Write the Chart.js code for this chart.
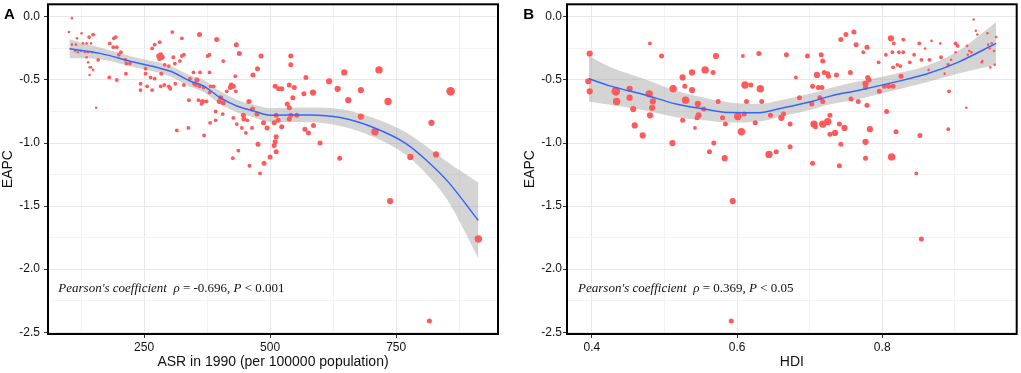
<!DOCTYPE html>
<html>
<head>
<meta charset="utf-8">
<script src="https://cdn.jsdelivr.net/npm/chart.js@4.4.0/dist/chart.umd.min.js"></script>
<style>
  html, body { margin: 0; padding: 0; background: #fff; }
  #wrap { position: relative; width: 1021px; height: 373px; }
  #chartA { position: absolute; left: 0; top: 0; }
  #chartB { position: absolute; left: 510px; top: 0; }
</style>
</head>
<body>
<div id="wrap">
  <canvas id="chartA" width="510" height="373"></canvas>
  <canvas id="chartB" width="511" height="373"></canvas>
</div>
<script>
// ---- tick values ----
const yMajor = [-2.5, -2, -1.5, -1, -0.5, 0];
const yMinor = [-2.25, -1.75, -1.25, -0.75, -0.25];
const xMajorA = [250, 500, 750];
const xMinorA = [125, 375, 625, 875];
const xMajorB = [0.4, 0.6, 0.8];
const xMinorB = [0.5, 0.7, 0.9];

// ---- panel A: ASR in 1990 vs EAPC (size = weight level) ----
const asrA = [107,101,126,141,149,117,129,136,145,107,115,113,119,125,133,139,147,136,139,142,
  142,145,149,159,155,182,190,194,189,196,181,196,204,200,213,215,222,214,243,243,
  256,266,253,253,263,271,266,271,281,279,283,281,286,291,299,311,306,284,290,283,
  299,301,312,302,325,360,394,433,439,325,329,321,308,376,380,407,482,541,541,475,
  466,431,348,361,380,341,355,353,360,349,329,368,380,382,388,423,427,421,432,414,
  402,399,407,339,358,366,364,374,392,406,458,427,447,448,455,381,392,434,444,452,
  464,315,338,369,487,494,508,516,523,512,512,510,508,512,500,476,437,426,459,488,
  480,510,517,523,538,548,534,538,545,541,553,538,567,571,569,576,647,716,617,634,
  680,655,734,858,585,586,599,638,680,708,778,820,829,474,465,738,913,816];
const eapcA = [-0.01,-0.12,-0.13,-0.16,-0.14,-0.17,-0.21,-0.21,-0.21,-0.22,-0.22,-0.27,-0.28,-0.27,-0.28,-0.28,-0.28,-0.32,-0.36,-0.40,
  -0.46,-0.40,-0.42,-0.34,-0.72,-0.21,-0.17,-0.16,-0.24,-0.24,-0.48,-0.50,-0.28,-0.30,-0.34,-0.37,-0.37,-0.45,-0.53,-0.58,
  -0.55,-0.58,-0.45,-0.41,-0.48,-0.49,-0.25,-0.22,-0.20,-0.31,-0.30,-0.33,-0.32,-0.38,-0.39,-0.37,-0.12,-0.45,-0.54,-0.55,
  -0.55,-0.56,-0.53,-0.57,-0.17,-0.14,-0.18,-0.22,-0.29,-0.31,-0.30,-0.35,-0.32,-0.31,-0.30,-0.35,-0.31,-0.31,-0.38,-0.41,
  -0.46,-0.47,-0.44,-0.44,-0.44,-0.49,-0.50,-0.54,-0.55,-0.53,-0.54,-0.56,-0.60,-0.55,-0.55,-0.54,-0.55,-0.56,-0.59,-0.59,
  -0.64,-0.67,-0.68,-0.66,-0.66,-0.67,-0.69,-0.67,-0.75,-0.77,-0.67,-0.80,-0.78,-0.81,-0.82,-0.84,-0.82,-0.85,-0.88,-0.92,
  -0.88,-0.90,-0.88,-0.94,-0.84,-0.88,-0.84,-0.82,-0.87,-0.78,-0.95,-0.99,-1.02,-1.07,-1.11,-1.01,-1.06,-1.12,-1.18,-1.16,
  -1.24,-0.55,-0.57,-0.57,-0.54,-0.56,-0.69,-0.72,-0.64,-0.78,-0.78,-0.81,-0.61,-0.48,-0.89,-0.92,-0.44,-0.42,-0.51,-0.57,
  -0.58,-0.66,-0.67,-0.59,-0.60,-0.86,-1.00,-1.12,-0.79,-0.91,-1.11,-0.84,-1.09,-0.77,-0.73,-1.46,-1.76,-2.41];
const weightA = [1,1,1,2,2,1,1,1,1,1,1,1,1,1,1,1,1,1,1,1,
  1,1,1,2,1,2,2,2,2,2,2,2,2,2,2,2,2,2,2,2,
  2,2,2,2,2,2,2,2,2,3,3,3,3,2,2,2,2,2,2,2,
  2,2,2,2,2,3,3,3,3,2,2,2,2,2,2,2,3,3,3,3,
  3,2,2,2,2,2,3,2,2,2,2,2,2,2,2,3,3,3,2,2,
  3,3,3,2,2,3,2,2,2,2,3,2,3,3,2,2,2,2,2,2,
  2,2,2,2,3,3,3,3,3,3,3,3,3,3,3,3,2,2,2,3,
  2,3,3,3,3,3,3,3,3,3,3,3,3,3,3,3,4,5,4,4,
  4,4,5,6,4,3,3,3,4,5,4,4,4,3,3,4,5,3];

// loess fit for panel A
const fitXA = [102,130,163,229,301,341,368,401,434,467,500,579,639,705,771,811,851,913];
const fitYA = [-0.253,-0.268,-0.289,-0.358,-0.429,-0.508,-0.548,-0.640,-0.706,-0.745,-0.779,-0.777,-0.798,-0.877,-1.008,-1.140,-1.298,-1.614];
const fitSeA = [0.075,0.06,0.046,0.04,0.042,0.045,0.047,0.05,0.05,0.05,0.055,0.058,0.067,0.075,0.09,0.11,0.15,0.30];

// ---- panel B: HDI vs EAPC ----
const hdiB = [0.397,0.395,0.397,0.433,0.434,0.452,0.452,0.457,0.459,0.470,0.480,0.496,0.479,0.484,0.483,0.480,0.511,0.512,0.525,0.528,
  0.538,0.538,0.529,0.525,0.556,0.567,0.571,0.546,0.547,0.545,0.554,0.542,0.562,0.568,0.583,0.574,0.580,0.584,0.601,0.606,
  0.608,0.611,0.619,0.613,0.610,0.625,0.630,0.632,0.634,0.644,0.646,0.654,0.661,0.664,0.668,0.673,0.673,0.681,0.686,0.697,
  0.703,0.704,0.706,0.708,0.718,0.725,0.710,0.704,0.712,0.717,0.714,0.718,0.716,0.718,0.720,0.725,0.726,0.728,0.728,0.735,
  0.737,0.741,0.741,0.743,0.743,0.748,0.750,0.756,0.757,0.761,0.764,0.767,0.774,0.777,0.779,0.777,0.780,0.781,0.782,0.779,
  0.777,0.777,0.783,0.795,0.796,0.805,0.806,0.803,0.809,0.815,0.812,0.813,0.814,0.815,0.816,0.819,0.821,0.823,0.829,0.825,
  0.826,0.829,0.838,0.844,0.847,0.851,0.852,0.854,0.859,0.864,0.865,0.868,0.880,0.881,0.886,0.891,0.892,0.891,0.895,0.901,
  0.904,0.901,0.917,0.918,0.920,0.923,0.916,0.926,0.929,0.931,0.938,0.937,0.945,0.946,0.948,0.951,0.949,0.955,0.957,0.954,
  0.594,0.592,0.854];
const eapcB = [-0.29,-0.51,-0.59,-0.59,-0.67,-0.57,-0.64,-0.73,-0.86,-0.94,-0.21,-0.31,-0.61,-0.67,-0.72,-0.78,-1.00,-0.57,-0.48,-0.55,
  -0.44,-0.58,-0.66,-0.82,-0.42,-0.44,-0.31,-0.69,-0.78,-0.80,-0.73,-0.88,-1.07,-1.00,-1.12,-0.67,-0.80,-0.85,-0.79,-0.91,
  -0.31,-0.54,-0.54,-0.67,-0.77,-0.84,-0.29,-0.57,-0.67,-1.09,-0.78,-1.07,-0.80,-0.77,-0.30,-0.85,-1.03,-0.48,-0.64,-0.31,
  -0.69,-1.16,-0.85,-0.87,-0.85,-0.83,-0.46,-0.55,-0.56,-0.56,-0.64,-0.67,-0.30,-0.35,-0.44,-0.45,-0.47,-0.78,-0.93,-0.92,
  -0.46,-0.85,-1.18,-0.18,-1.01,-0.88,-0.14,-0.44,-0.65,-0.12,-0.22,-0.67,-0.28,-0.56,-0.24,-0.53,-0.48,-0.49,-0.50,-0.70,
  -0.99,-1.12,-0.89,-0.36,-0.59,-0.30,-0.75,-0.55,-0.55,-0.55,-0.17,-1.11,-0.28,-0.40,-0.21,-0.91,-0.38,-0.28,-0.28,-0.39,
  -0.47,-0.18,-0.36,-0.30,-1.24,-0.21,-0.94,-0.34,-0.25,-0.42,-0.34,-0.19,-0.21,-0.32,-0.45,-0.38,-0.59,-0.89,-0.34,-0.21,
  -0.23,-0.28,-0.23,-0.30,-0.27,-0.28,-0.72,-0.02,-0.11,-0.14,-0.35,-0.36,-0.13,-0.22,-0.25,-0.21,-0.40,-0.38,-0.16,-0.27,
  -1.46,-2.41,-1.76];
const weightB = [4,4,4,6,5,4,4,4,4,4,2,3,5,4,4,4,4,5,4,3,
  4,4,5,3,5,3,4,4,4,3,3,2,3,3,4,3,3,3,5,5,
  2,5,3,3,3,3,3,5,3,5,3,3,4,3,3,3,3,2,3,3,
  3,3,5,3,5,5,4,3,3,3,3,3,3,3,3,3,3,3,3,4,
  3,3,3,3,3,4,3,3,3,3,3,3,2,3,3,4,3,3,3,3,
  4,3,4,2,3,2,3,3,3,3,4,5,2,2,2,3,2,2,2,2,
  3,2,2,2,2,2,3,2,1,1,2,1,1,2,1,2,2,2,1,2,
  2,1,1,1,1,1,1,1,1,1,1,1,1,1,1,1,1,1,1,1,
  4,3,3];

// loess fit for panel B
const fitXB = [0.396,0.425,0.470,0.516,0.555,0.590,0.631,0.658,0.704,0.727,0.768,0.814,0.860,0.905,0.957];
const fitYB = [-0.49,-0.547,-0.613,-0.69,-0.73,-0.758,-0.76,-0.728,-0.668,-0.63,-0.581,-0.521,-0.455,-0.358,-0.21];
const fitSeB = [0.18,0.15,0.125,0.105,0.09,0.08,0.07,0.065,0.065,0.065,0.07,0.065,0.065,0.09,0.17];

const sansFont = '"Liberation Sans", Arial, sans-serif';
const serifFont = '"Liberation Serif", "Times New Roman", serif';

const near = (list, v) => list.some(t => Math.abs(t - v) < 1e-9);

// frame, panel letter and Pearson note
const panelDecor = {
  id: 'panelDecor',
  afterDatasetsDraw(chart, args, o) {
    const { ctx, chartArea: a, scales } = chart;
    ctx.save();
    // annotation
    let px = scales.x.getPixelForValue(o.noteAt[0]);
    const py = scales.y.getPixelForValue(o.noteAt[1]);
    ctx.fillStyle = '#111';
    ctx.textBaseline = 'alphabetic';
    ctx.textAlign = 'left';
    o.noteParts.forEach(([txt, ital]) => {
      ctx.font = (ital ? 'italic ' : '') + '13px ' + serifFont;
      ctx.fillText(txt, px, py);
      px += ctx.measureText(txt).width;
    });
    // panel border
    ctx.strokeStyle = '#000';
    ctx.lineWidth = 2;
    ctx.strokeRect(a.left, a.top, a.right - a.left, a.bottom - a.top);
    // panel letter
    ctx.font = 'bold 15px ' + sansFont;
    ctx.fillStyle = '#000';
    ctx.fillText(o.letter, o.letterX, 18.5);
    ctx.restore();
  }
};

function makePanel(id, p) {
  const pts = p.xs.map((v, i) => ({ x: v, y: p.ys[i] }));
  const fit = p.fitX.map((v, i) => ({ x: v, y: p.fitY[i] }));
  const upper = p.fitX.map((v, i) => ({ x: v, y: p.fitY[i] + p.fitSe[i] }));
  const lower = p.fitX.map((v, i) => ({ x: v, y: p.fitY[i] - p.fitSe[i] }));

  return new Chart(document.getElementById(id), {
    type: 'scatter',
    data: {
      datasets: [
        { type: 'line', data: fit, borderColor: '#3366ff', borderWidth: 1.5,
          pointRadius: 0, fill: false, cubicInterpolationMode: 'monotone' },
        { data: pts, backgroundColor: '#ff5959', borderWidth: 0,
          pointRadius: p.weights.map(w => 0.7 + 0.6 * w), pointHoverRadius: 0 },
        { type: 'line', data: upper, borderWidth: 0, borderColor: 'rgba(0,0,0,0)',
          backgroundColor: 'rgba(153,153,153,0.42)', pointRadius: 0, fill: '+1',
          cubicInterpolationMode: 'monotone' },
        { type: 'line', data: lower, borderWidth: 0, borderColor: 'rgba(0,0,0,0)',
          pointRadius: 0, fill: false, cubicInterpolationMode: 'monotone' }
      ]
    },
    options: {
      responsive: false,
      animation: false,
      devicePixelRatio: 1,
      layout: { padding: { left: 0, right: p.padRight, top: 3, bottom: 0 } },
      plugins: {
        legend: { display: false },
        tooltip: { enabled: false },
        panelDecor: { letter: p.letter, letterX: p.letterX, noteAt: p.noteAt, noteParts: p.noteParts }
      },
      scales: {
        x: {
          type: 'linear', min: p.xMin, max: p.xMax,
          afterBuildTicks: s => { s.ticks = p.xMajor.concat(p.xMinor).sort((a, b) => a - b).map(v => ({ value: v })); },
          afterFit: s => { s.height = 39; s.paddingLeft = 0; s.paddingRight = 0; },
          border: { display: false },
          grid: {
            color: c => c.tick && near(p.xMinor, c.tick.value) ? '#f3f3f3' : '#e8e8e8',
            tickColor: c => c.tick && near(p.xMinor, c.tick.value) ? 'rgba(0,0,0,0)' : '#333',
            tickLength: 4, lineWidth: 1
          },
          ticks: {
            autoSkip: false, maxRotation: 0, minRotation: 0, padding: 2,
            color: '#111', font: { family: sansFont, size: 12 },
            callback: v => near(p.xMajor, v) ? p.xFmt(v) : ''
          },
          title: { display: true, text: p.xTitle, color: '#111',
            font: { family: sansFont, size: 14 }, padding: { top: 0, bottom: 2 } }
        },
        y: {
          type: 'linear', min: -2.514, max: 0.1,
          afterBuildTicks: s => { s.ticks = yMajor.concat(yMinor).sort((a, b) => a - b).map(v => ({ value: v })); },
          afterFit: s => { s.width = p.yWidth; s.paddingTop = 0; s.paddingBottom = 0; },
          border: { display: false },
          grid: {
            color: c => c.tick && near(yMinor, c.tick.value) ? '#f3f3f3' : '#e8e8e8',
            tickColor: c => c.tick && near(yMinor, c.tick.value) ? 'rgba(0,0,0,0)' : '#333',
            tickLength: 4, lineWidth: 1
          },
          ticks: {
            autoSkip: false, padding: p.yPad,
            color: '#111', font: { family: sansFont, size: 12 },
            callback: v => near(yMajor, v) ? v.toFixed(1) : ''
          },
          title: { display: true, text: 'EAPC', color: '#111',
            font: { family: sansFont, size: 14 }, padding: { top: p.yTitlePad, bottom: 0 } }
        }
      }
    },
    plugins: [panelDecor]
  });
}

makePanel('chartA', {
  xs: asrA, ys: eapcA, weights: weightA,
  fitX: fitXA, fitY: fitYA, fitSe: fitSeA,
  xMin: 59.5, xMax: 952, xMajor: xMajorA, xMinor: xMinorA, xFmt: v => String(v),
  xTitle: 'ASR in 1990 (per 100000 population)',
  padRight: 12, yWidth: 48, yPad: 4, yTitlePad: 0,
  letter: 'A', letterX: 4,
  noteAt: [80, -2.178],
  noteParts: [["Pearson's coefficient  ", true], ['\u03C1', true], [' = -0.696, ', false], ['P', true], [' < 0.001', false]]
});

makePanel('chartB', {
  xs: hdiB, ys: eapcB, weights: weightB,
  fitX: fitXB, fitY: fitYB, fitSe: fitSeB,
  xMin: 0.3657, xMax: 0.9853, xMajor: xMajorB, xMinor: xMinorB, xFmt: v => v.toFixed(1),
  xTitle: 'HDI',
  padRight: 3, yWidth: 57, yPad: 1, yTitlePad: 11.6,
  letter: 'B', letterX: 13.3,
  noteAt: [0.381, -2.178],
  noteParts: [["Pearson's coefficient  ", true], ['\u03C1', true], [' = 0.369, ', false], ['P', true], [' < 0.05', false]]
});
</script>
</body>
</html>
